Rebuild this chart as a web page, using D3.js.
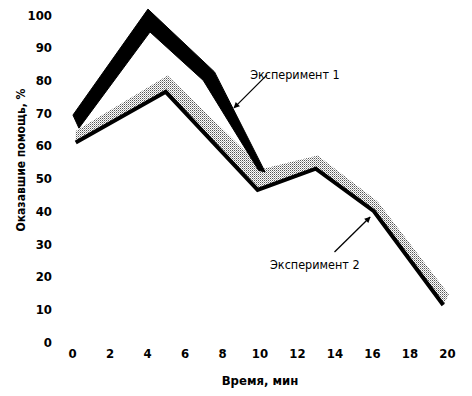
<!DOCTYPE html>
<html>
<head>
<meta charset="utf-8">
<script src="https://cdn.jsdelivr.net/npm/d3@7"></script>
<style>
  body { margin: 0; background: #fff; }
  text { font-family: "DejaVu Sans Condensed", "Liberation Sans", sans-serif; }
</style>
</head>
<body>
<svg id="chart" width="472" height="396"></svg>
<script>
// ticks
var xTicks = [0, 2, 4, 6, 8, 10, 12, 14, 16, 18, 20];
var yTicks = [0, 10, 20, 30, 40, 50, 60, 70, 80, 90, 100];

// Эксперимент 1 - thick black ribbon (upper and lower edges)
var exp1Upper = [[0.05, 69.4], [4.05, 101.8], [7.6, 82.6], [10.3, 52]];
var exp1Lower = [[0.37, 65.4], [4.16, 94.8], [7.0, 80], [9.95, 52.5]];

// Эксперимент 2 - black line with a stippled shade above it
var exp2Line = [[0.2, 61], [5.0, 76.5], [9.9, 46.5], [13.0, 53], [16.1, 40], [19.8, 11.3]];
var exp2Shade = [[0.2, 64.5], [5.1, 81.5], [10.2, 53], [13.1, 57], [16.3, 43], [20.1, 14.5]];

var svg = d3.select("#chart");

var x = d3.scaleLinear().domain([0, 20]).range([72, 447]);
var y = d3.scaleLinear().domain([0, 100]).range([342, 15]);

var defs = svg.append("defs");
var pat = defs.append("pattern")
    .attr("id", "stipple")
    .attr("patternUnits", "userSpaceOnUse")
    .attr("width", 2).attr("height", 2);
pat.append("rect").attr("width", 2).attr("height", 2).attr("fill", "#fff");
pat.append("rect").attr("x", 0).attr("y", 0).attr("width", 1).attr("height", 1).attr("fill", "#555");
pat.append("rect").attr("x", 1).attr("y", 1).attr("width", 1).attr("height", 1).attr("fill", "#aaa");

defs.append("marker")
    .attr("id", "arrow")
    .attr("viewBox", "0 0 10 10")
    .attr("refX", 9).attr("refY", 5)
    .attr("markerWidth", 9).attr("markerHeight", 6)
    .attr("markerUnits", "userSpaceOnUse")
    .attr("orient", "auto")
    .append("path")
    .attr("d", "M0,0L10,5L0,10z")
    .attr("fill", "#000");

var line = d3.line().x(function (d) { return x(d[0]); }).y(function (d) { return y(d[1]); });
var ribbon = d3.line().x(function (d) { return x(d[0]); }).y(function (d) { return y(d[1]); })
    .curve(d3.curveLinearClosed);

// axes (labels only)
var xAxis = svg.append("g")
    .attr("transform", "translate(0,349)")
    .call(d3.axisBottom(x).tickValues(xTicks).tickSize(0).tickPadding(0));
var yAxis = svg.append("g")
    .attr("transform", "translate(52,0)")
    .call(d3.axisLeft(y).tickValues(yTicks).tickSize(0).tickPadding(0));
[xAxis, yAxis].forEach(function (g) {
    g.select(".domain").remove();
    g.selectAll("text")
        .style("font-family", "'DejaVu Sans Condensed', sans-serif")
        .style("font-size", "13px")
        .style("font-weight", "bold")
        .attr("fill", "#000");
});

// Эксперимент 2 shade
svg.append("path")
    .attr("d", ribbon(exp2Shade.concat(exp2Line.slice().reverse())))
    .attr("fill", "url(#stipple)");

svg.append("path")
    .attr("d", line(exp2Line))
    .attr("fill", "none")
    .attr("stroke", "#000")
    .attr("stroke-width", 4)
    .attr("stroke-linejoin", "miter");

// Эксперимент 1 ribbon
svg.append("path")
    .attr("d", ribbon(exp1Upper.concat(exp1Lower.slice().reverse())))
    .attr("fill", "#000")
    .attr("stroke", "#000")
    .attr("stroke-width", 1);

// annotations
svg.append("line")
    .attr("x1", x(10.4)).attr("y1", y(81.7))
    .attr("x2", x(8.64)).attr("y2", y(71.6))
    .attr("stroke", "#000").attr("stroke-width", 1.3)
    .attr("marker-end", "url(#arrow)");
svg.append("text")
    .attr("x", x(9.5)).attr("y", y(80.5))
    .attr("font-size", "12.5px")
    .text("Эксперимент 1");

svg.append("line")
    .attr("x1", x(14.0)).attr("y1", y(27.5))
    .attr("x2", x(15.9)).attr("y2", y(38.2))
    .attr("stroke", "#000").attr("stroke-width", 1.3)
    .attr("marker-end", "url(#arrow)");
svg.append("text")
    .attr("x", x(10.56)).attr("y", y(22.4))
    .attr("font-size", "12.5px")
    .text("Эксперимент 2");

// axis titles
svg.append("text")
    .attr("text-anchor", "middle")
    .attr("x", 260).attr("y", 385)
    .attr("font-size", "13px")
    .attr("font-weight", "bold")
    .text("Время, мин");
svg.append("text")
    .attr("text-anchor", "middle")
    .attr("transform", "translate(25,160) rotate(-90)")
    .attr("font-size", "12px")
    .attr("font-weight", "bold")
    .text("Оказавшие помощь, %");
</script>
</body>
</html>
